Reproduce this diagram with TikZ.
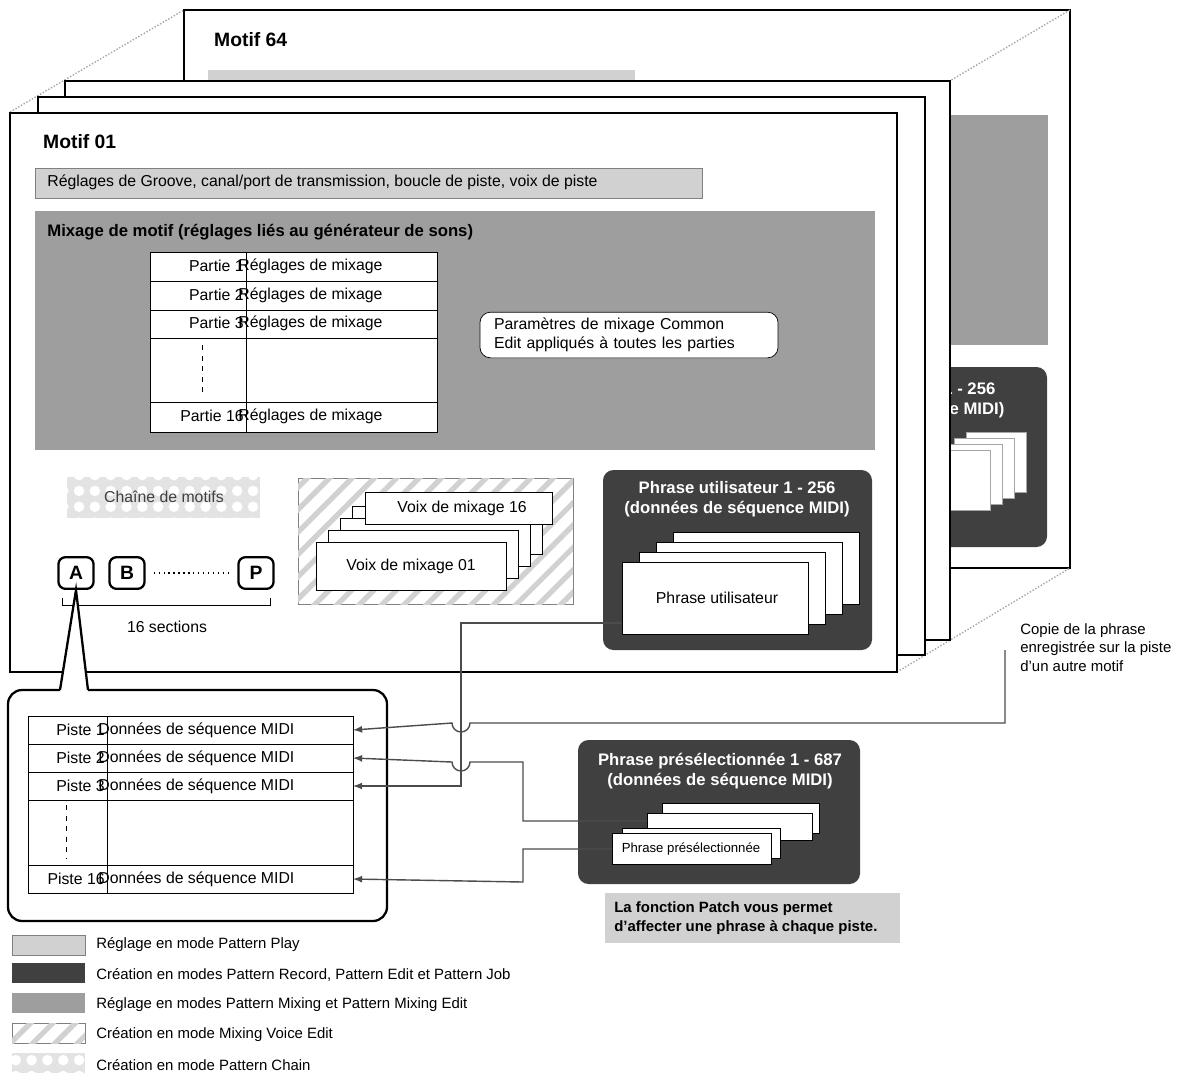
\documentclass[tikz,border=0pt]{standalone}
\usepackage{fontspec}
\setmainfont{Liberation Sans}
\usetikzlibrary{patterns.meta}
\definecolor{lightgr}{gray}{0.82}
\definecolor{midgr}{gray}{0.62}
\definecolor{darkgr}{gray}{0.25}
\tikzset{
  frame/.style={draw, line width=1.6pt, fill=white},
  persp/.style={densely dotted, thick, gray!70},
  txt/.style={font=\fontsize{9}{11}\selectfont, inner sep=0pt},
  ttl/.style={font=\fontsize{9.5}{11.5}\selectfont\bfseries, inner sep=0pt},
  wttl/.style={ttl, text=white, align=center},
  cell/.style={draw, thin, fill=white},
  darkbox/.style={fill=darkgr, rounded corners=6pt},
  page/.style={draw, gray!70, fill=white},
  link/.style={gray!60!black, thick},
  arr/.style={link, -latex},
  hatch/.style={pattern={Lines[angle=45,distance=9pt,line width=3pt]}, pattern color=lightgr},
  dots/.style={pattern={Dots[radius=3pt,distance=9pt]}, pattern color=white},
  secbox/.style={draw, line width=1.3pt, rounded corners=4pt, fill=white, minimum width=20pt, minimum height=18pt, font=\fontsize{11}{13}\selectfont\bfseries}
}
\begin{document}
\begin{tikzpicture}[x=0.02cm,y=-0.02cm]
\useasboundingbox (0,0) rectangle (1195,1076);
% back pattern
\draw[frame] (184,10) rectangle (1070,568);
\node[anchor=west, font=\fontsize{11}{13}\selectfont\bfseries] (m64) at (208,40) {Motif 64};
\fill[lightgr] (208,70) rectangle (635,90);
\fill[midgr] (948,115) rectangle (1048,345);
\fill[darkbox] (880,367) rectangle (1047,547);
\node[wttl, anchor=west] (bk1) at (943,389) {1 - 256};
\node[wttl, anchor=west] (bk2) at (940,410) {ce MIDI)};
\foreach \d in {3,2,1,0} {
  \draw[page] (930+12*\d,450-6*\d) rectangle (990+12*\d,510-6*\d);
}
% perspective lines
\draw[persp] (10,112) -- (184,10);
\draw[persp] (897,112) -- (1070,10);
\draw[persp] (897,672) -- (1070,568);
% middle patterns
\draw[frame] (65,81) rectangle (950,640);
\draw[frame] (38,97) rectangle (925,655);
% front pattern
\draw[frame] (10,113) rectangle (897,672);
\node[anchor=west, font=\fontsize{11}{13}\selectfont\bfseries] (m01) at (37,142) {Motif 01};
\draw[gray, fill=lightgr] (35,168) rectangle (702,198);
\node[txt, anchor=west] (groove) at (47,182) {Réglages de Groove, canal/port de transmission, boucle de piste, voix de piste};
% mixing
\fill[midgr] (35,211) rectangle (875,450);
\node[ttl, anchor=west] (mix) at (47,232) {Mixage de motif (réglages liés au générateur de sons)};
\draw[cell] (150,252) rectangle (437,432);
\foreach \y in {281,310,338,402} \draw (150,\y) -- (437,\y);
\draw (246,252) -- (246,432);
\draw[dashed] (202,345) -- (202,395);
\foreach \n/\y in {1/266,2/295,3/323,16/416} {
  \node[txt, anchor=east] (pt\n) at (244,\y) {Partie \n};
  \node[txt, anchor=west] (mx\n) at (238,\y) {Réglages de mixage};
}
\node[draw, fill=white, rounded corners=6pt, minimum width=298\pgflinewidth, txt, align=left, text width=270*0.02cm, inner xsep=8pt, minimum height=26pt] (common) at (629,335) {Paramètres de mixage Common\\Edit appliqués à toutes les parties};
% chain
\fill[lightgr!60] (67,477) rectangle (260,518);
\fill[dots] (67,477) rectangle (260,518);
\node[txt, text=darkgr] (chain) at (164,497) {Chaîne de motifs};
\node[secbox] (A) at (76,573) {A};
\node[secbox] (B) at (127,573) {B};
\node[secbox] (P) at (256,573) {P};
\draw[dotted, thick] (B.east) ++(8,0) -- ([xshift=-8*0.02cm]P.west);
\draw (62,598) -- (62,605) -- (270,605) -- (270,598);
\node[txt] (sect) at (167,627) {16 sections};
% mixing voices
\draw[gray] (298,478) rectangle (573,604);
\fill[hatch] (298,478) rectangle (573,604);
\foreach \d in {3,2,1} {
  \draw[fill=white] (316+12*\d,542-12*\d) rectangle (506+12*\d,590-12*\d);
}
\draw[fill=white] (365,492) rectangle (552,524);
\node[txt] (v16) at (462,508) {Voix de mixage 16};
\draw[fill=white] (316,542) rectangle (506,590);
\node[txt] (v01) at (411,566) {Voix de mixage 01};
% user phrase
\fill[darkbox] (603,470) rectangle (872,650);
\node[wttl] (utit) at (737,499) {Phrase utilisateur 1 - 256\\(données de séquence MIDI)};
\foreach \d in {3,2,1} {
  \draw[fill=white] (622+17*\d,562-10*\d) rectangle (808+17*\d,634-10*\d);
}
\draw[fill=white] (622,562) rectangle (808,634);
\node[txt] (uph) at (717,598) {Phrase utilisateur};
\coordinate (uout) at (622,623);
% track pop-up
\fill[white] (60,690) -- (76,590) -- (88,690) -- cycle;
\draw[line width=1.3pt, rounded corners=8pt] (60,690) -- (8,690) -- (8,921) -- (387,921) -- (387,690) -- (88,690);
\draw[line width=1.3pt] (60,690) -- (76,590) -- (88,690);
\draw[cell] (28,716) rectangle (353,893);
\foreach \y in {744,772,800,865} \draw (28,\y) -- (353,\y);
\draw (107,716) -- (107,893);
\draw[dashed] (66,805) -- (66,858);
\foreach \n/\y in {1/730,2/758,3/786,16/879} {
  \node[txt, anchor=east] (ps\n) at (105,\y) {Piste \n};
  \node[txt, anchor=west] (dt\n) at (98,\y) {Données de séquence MIDI};
  \coordinate (in\n) at (353,\y);
}
% preset phrase
\fill[darkbox] (578,740) rectangle (860,884);
\node[wttl] (ptit) at (720,771) {Phrase présélectionnée 1 - 687\\(données de séquence MIDI)};
\draw[fill=white] (662,803) rectangle (819,833);
\draw[fill=white] (647,813) rectangle (812,840);
\draw[fill=white] (622,828) rectangle (780,858);
\draw[fill=white] (612,833) rectangle (771,864);
\node[font=\fontsize{7.5}{9}\selectfont, inner sep=0pt] (pph) at (691,849) {Phrase présélectionnée};
\coordinate (pmid) at (647,821);
\coordinate (pfront) at (612,849);
\fill[lightgr] (605,893) rectangle (900,943);
\node[ttl, font=\fontsize{8.5}{10.5}\selectfont\bfseries, align=left, anchor=west] (note) at (614,918) {La fonction Patch vous permet\\d'affecter une phrase à chaque piste.};
% copy note
\node[txt, align=left, anchor=north west, font=\fontsize{8.5}{10.5}\selectfont] (copy) at (1020,623) {Copie de la phrase\\enregistrée sur la piste\\d'un autre motif};
\coordinate (cpy) at (1005,650);
% connectors
\draw[arr] (cpy) -- (1005,723) -- (470,723) arc (0:180:9) -- (in1);
\draw[arr] (pmid) -- (523,821) -- (523,762) -- (470,762) arc (0:180:9) -- (in2);
\draw[arr] (uout) -- (461,623) -- (461,786) -- (in3);
\draw[arr] (pfront) -- (523,849) -- (523,882) -- (in16);
% legend
\foreach \y/\s/\t in {935/lg1/{Réglage en mode Pattern Play},
                      965/lg2/{Création en modes Pattern Record, Pattern Edit et Pattern Job},
                      995/lg3/{Réglage en modes Pattern Mixing et Pattern Mixing Edit},
                      1025/lg4/{Création en mode Mixing Voice Edit},
                      1055/lg5/{Création en mode Pattern Chain}} {
  \node[txt, anchor=west, font=\fontsize{8.5}{10.5}\selectfont] (\s) at (96,\y+10) {\t};
}
\draw[gray, fill=lightgr] (12,935) rectangle (85,955);
\fill[darkgr] (12,963) rectangle (85,983);
\fill[midgr] (12,993) rectangle (85,1013);
\draw[gray] (12,1023) rectangle (85,1043);
\fill[hatch] (12,1023) rectangle (85,1043);
\fill[lightgr!60] (12,1053) rectangle (85,1073);
\fill[dots] (12,1053) rectangle (85,1073);
\end{tikzpicture}
\end{document}
